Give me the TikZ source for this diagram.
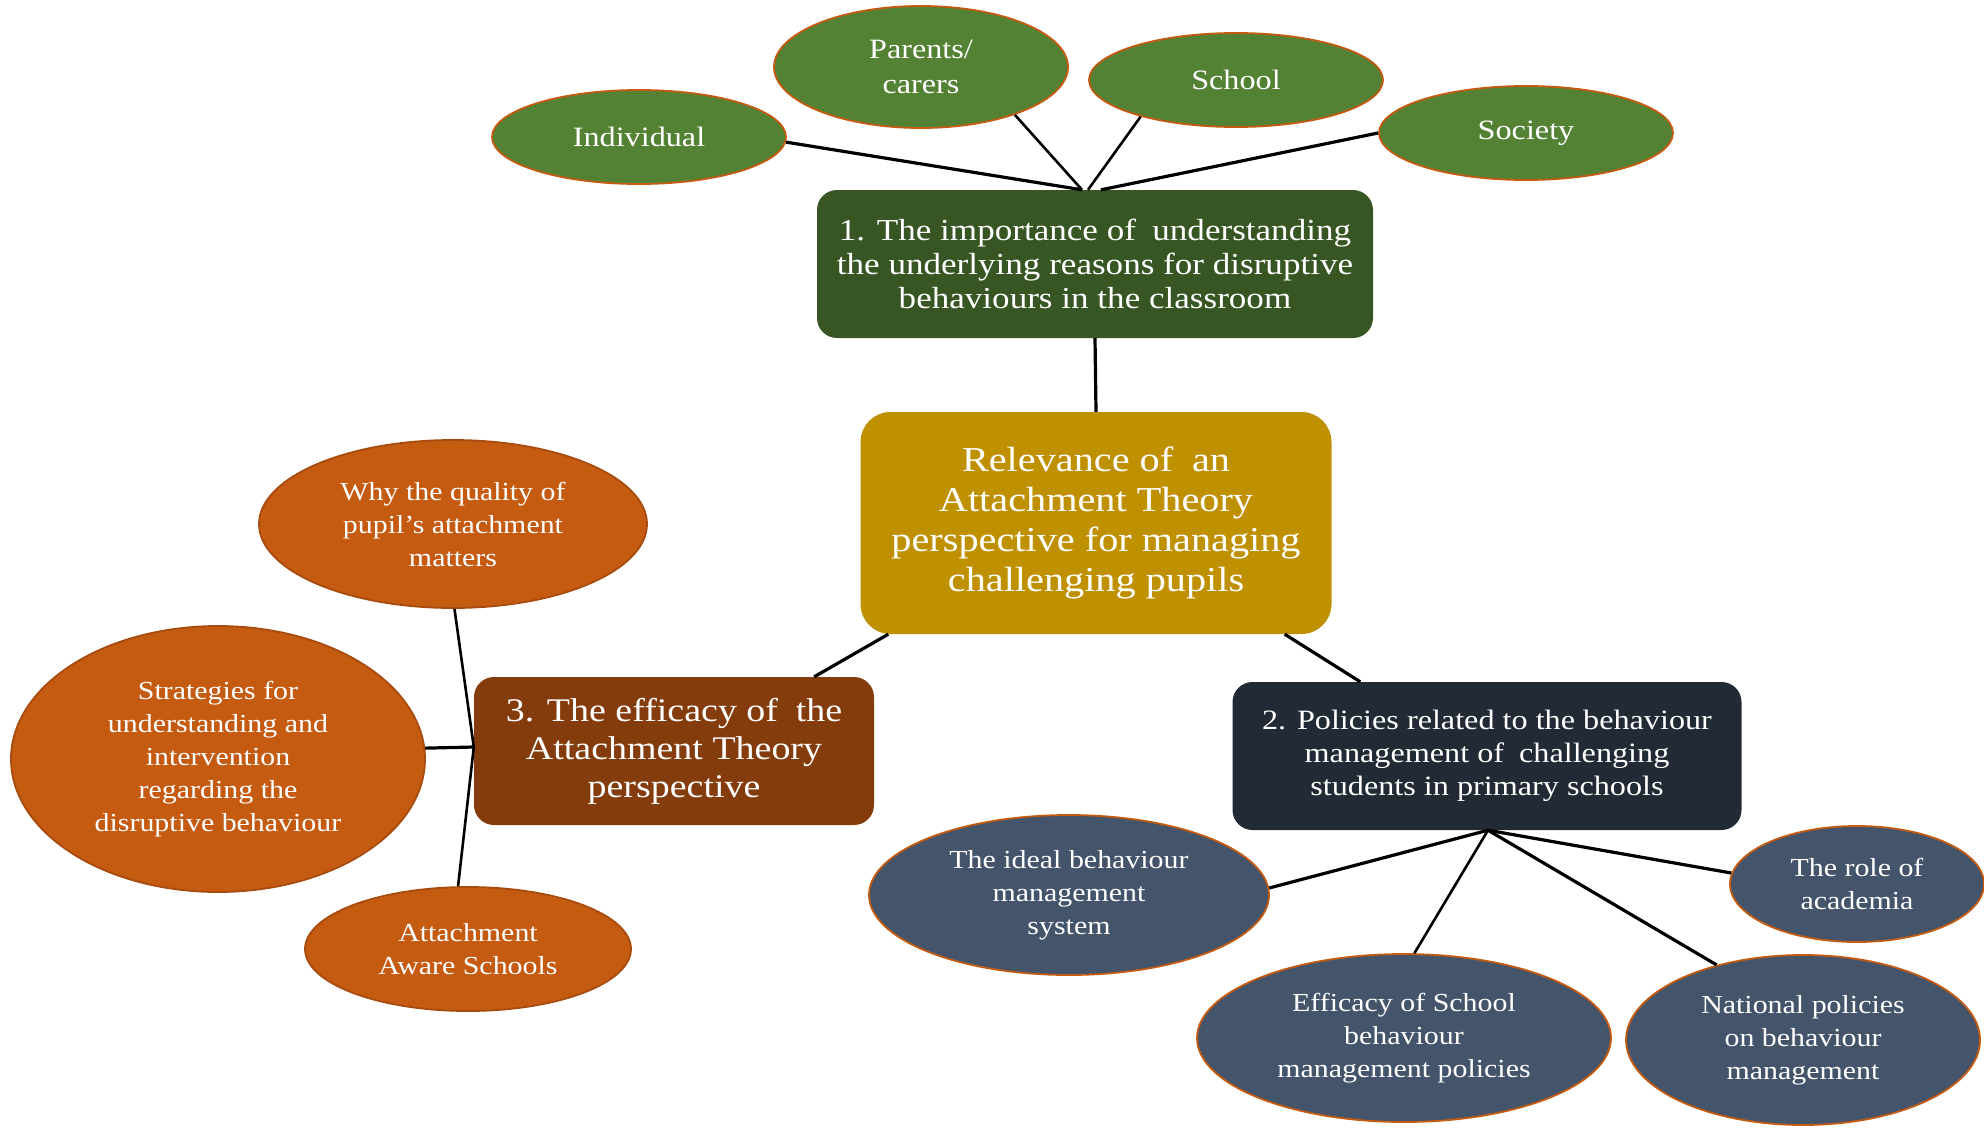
\documentclass[tikz,border=0pt]{standalone}
\usepackage{fontspec}
\setmainfont{Liberation Serif}[FakeStretch=1.15]
\usetikzlibrary{shapes.geometric,calc}
\definecolor{grnell}{HTML}{548235}
\definecolor{grnbox}{HTML}{375623}
\definecolor{goldbox}{HTML}{BF9000}
\definecolor{brnbox}{HTML}{843C0C}
\definecolor{orgell}{HTML}{C55A11}
\definecolor{navybox}{HTML}{222A35}
\definecolor{bluell}{HTML}{44546A}
\definecolor{ellline}{HTML}{C55A11}
\begin{document}
\begin{tikzpicture}[x=1pt,y=-1pt,
  ell/.style={ellipse, draw=ellline, line width=1.8pt, inner sep=0pt, text=white, align=center},
  greenell/.style={ell, fill=grnell, minimum width=294pt, minimum height=94pt, font=\fontsize{28}{35}\selectfont},
  orangeell/.style={ell, fill=orgell, draw=orgell!85!black, font=\fontsize{26}{33}\selectfont},
  blueell/.style={ell, fill=bluell, font=\fontsize{26}{33}\selectfont},
  box/.style={rectangle, rounded corners=20pt, inner sep=0pt, text=white, align=center},
  link/.style={line width=3.2pt, draw=black},
  thinlink/.style={line width=2.6pt, draw=black}]
\useasboundingbox (0,0) rectangle (1984,1128);

% top green ellipses
\node[greenell] (ind) at (639,137) {Individual};
\node[greenell, minimum height=122pt] (par) at (921,67) {Parents/\\carers};
\node[greenell] (sch) at (1236,80) {School};
\node[greenell] (soc) at (1526,133) {Society};

% main boxes
\node[box, fill=grnbox, minimum width=556pt, minimum height=148pt,
  font=\fontsize{30.5}{34}\selectfont] (b1) at (1095,264)
  {1. The importance of\hspace{0.25em} understanding\\the underlying reasons for disruptive\\behaviours in the classroom};
\node[box, fill=goldbox, rounded corners=30pt, minimum width=471pt, minimum height=222pt,
  font=\fontsize{35}{40}\selectfont] (ctr) at (1096,523)
  {Relevance of\hspace{0.25em} an\\Attachment Theory\\perspective for managing\\challenging pupils};
\node[box, fill=brnbox, minimum width=400pt, minimum height=148pt,
  font=\fontsize{33}{38}\selectfont] (b3) at (674,751)
  {3. The efficacy of\hspace{0.25em} the\\Attachment Theory\\perspective};
\node[box, fill=navybox, minimum width=509pt, minimum height=148pt,
  font=\fontsize{28}{33}\selectfont] (b2) at (1487,756)
  {2. Policies related to the behaviour\\management of\hspace{0.25em} challenging\\students in primary schools};

% orange ellipses
\node[orangeell, minimum width=388pt, minimum height=168pt] (why) at (453,524)
  {Why the quality of\\pupil’s attachment\\matters};
\node[orangeell, minimum width=414pt, minimum height=266pt] (str) at (218,759)
  {Strategies for\\understanding and\\intervention\\regarding the\\disruptive behaviour};
\node[orangeell, minimum width=326pt, minimum height=124pt] (aas) at (468,949)
  {Attachment\\Aware Schools};

% blue ellipses
\node[blueell, minimum width=400pt, minimum height=160pt] (ideal) at (1069,895)
  {The ideal behaviour\\management\\system};
\node[blueell, minimum width=414pt, minimum height=168pt] (eff) at (1404,1038)
  {Efficacy of School\\behaviour\\management policies};
\node[blueell, minimum width=354pt, minimum height=170pt] (nat) at (1803,1040)
  {National policies\\on behaviour\\management};
\node[blueell, minimum width=254pt, minimum height=116pt] (role) at (1857,884)
  {The role of\\academia};

% hub coordinates
\coordinate (h1a) at ($(b1.north)+(-13,0)$);
\coordinate (h1b) at ($(b1.north)+(-7,0)$);
\coordinate (h1c) at ($(b1.north)+(6,0)$);
\coordinate (h3) at ($(b3.west)+(0,-4)$);
\coordinate (h2) at ($(b2.south)+(1,0)$);

% connectors
\draw[link] (ind.-2) -- (h1a);
\draw[thinlink] (par.-27) -- (h1a);
\draw[thinlink] (sch.-159) -- (h1b);
\draw[link] (soc.180) -- (h1c);
\draw[link] (b1.south) -- (ctr.north);
\draw[link] ($(ctr.south west)+(28,0)$) -- ($(b3.north east)+(-60,0)$);
\draw[link] ($(ctr.south east)+(-47,0)$) -- ($(b2.north west)+(128,0)$);
\draw[thinlink] (why.-89) -- (h3);
\draw[link] (str.3) -- (h3);
\draw[thinlink] (aas.99) -- (h3);
\draw[link] (h2) -- (ideal.2.5);
\draw[thinlink] (h2) -- (eff.83);
\draw[link] (h2) -- (nat.139);
\draw[link] (h2) -- (role.175);
\end{tikzpicture}
\end{document}
